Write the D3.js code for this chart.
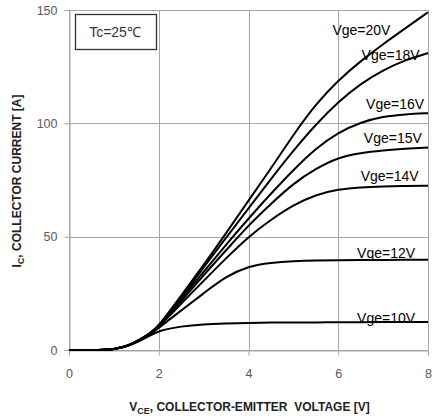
<!DOCTYPE html>
<html><head><meta charset="utf-8">
<script src="https://cdn.jsdelivr.net/npm/d3@7"></script>
<style>
html,body{margin:0;padding:0;background:#fff;}
svg{display:block;}
text{font-family:"Liberation Sans",Arial,sans-serif;}
</style></head>
<body>
<svg id="chart" width="432" height="420"></svg>
<script>
// ---- data ----
const vce = [0,0.5,0.8,1.0,1.2,1.4,1.6,1.8,2.0,2.5,3.0,3.5,4.0,4.5,5.0,5.5,6.0,6.5,7.0,7.5,8.0];
const seriesNames = ["Vge=20V","Vge=18V","Vge=16V","Vge=15V","Vge=14V","Vge=12V","Vge=10V"];
const ic20 = [0,0,0.1,0.4,1.2,2.7,4.8,7.4,10.5,24,37.5,51.5,66,80,95,108.5,119,127.5,135,142,149];
const ic18 = [0,0,0.1,0.4,1.2,2.7,4.8,7.3,10.3,23,36.5,49.5,62.5,75.5,88,99.5,109.5,117.5,123.5,128,131];
const ic16 = [0,0,0.1,0.4,1.2,2.6,4.7,7.2,10.2,22.5,34.5,46.5,58,69,79.5,89,96,100.5,103,104,104.5];
const ic15 = [0,0,0.1,0.4,1.2,2.6,4.7,7.2,10.1,21.5,33,44,55,64.5,73.5,80,85,87,88,88.8,89.3];
const ic14 = [0,0,0.1,0.4,1.2,2.6,4.6,7.1,10,20.5,30.5,40.5,50,57.5,64,68.5,70.9,71.8,72.2,72.4,72.5];
const ic12 = [0,0,0.1,0.4,1.2,2.5,4.5,6.9,9.7,17.5,25,32.5,37,38.5,39.2,39.5,39.6,39.7,39.7,39.8,39.8];
const ic10 = [0,0,0.1,0.4,1.1,2.4,4.2,6.3,8.5,10.5,11.4,11.7,12,12.1,12.1,12.2,12.2,12.3,12.3,12.3,12.3];
const xTicks = [0,2,4,6,8];
const yTicks = [0,50,100,150];
const xTitleMain = "V", xTitleSub = "CE", xTitleRest = ", COLLECTOR-EMITTER  VOLTAGE [V]";
const yTitleMain = "I", yTitleSub = "C", yTitleRest = ", COLLECTOR CURRENT [A]";
const legendText = "Tc=25\u2103";

const allSeries = [ic20, ic18, ic16, ic15, ic14, ic12, ic10];
// label anchor positions (data coords: vce of left edge, Ic of baseline)
const labelPos = [[5.87,139],[6.52,128],[6.62,106.5],[6.57,91.5],[6.5,74.5],[6.42,40.5],[6.42,12]];

// ---- drawing ----
const svg = d3.select("#chart");
const x = d3.scaleLinear().domain([0,8]).range([69,428]);
const y = d3.scaleLinear().domain([0,150]).range([350,10]);
const gridColor = "#a6a6a6";

// grid
const g = svg.append("g");
g.selectAll(".hg").data(yTicks).join("line")
  .attr("x1", x(0)).attr("x2", x(8))
  .attr("y1", d=>Math.round(y(d))+0.5).attr("y2", d=>Math.round(y(d))+0.5)
  .attr("stroke", gridColor).attr("stroke-width",1);
g.selectAll(".vg").data(xTicks).join("line")
  .attr("y1", y(150)).attr("y2", y(0))
  .attr("x1", d=>Math.round(x(d))+0.5).attr("x2", d=>Math.round(x(d))+0.5)
  .attr("stroke", gridColor).attr("stroke-width",1);

// axes
const yAxis = d3.axisLeft(y).tickValues(yTicks).tickSize(5).tickPadding(7);
const xAxis = d3.axisBottom(x).tickValues(xTicks).tickSize(5).tickPadding(14);
const ya = svg.append("g").attr("transform",`translate(${Math.round(x(0))+0.5},0)`).call(yAxis);
const xa = svg.append("g").attr("transform",`translate(0,${Math.round(y(0))+0.5})`).call(xAxis);
[ya,xa].forEach(a=>{
  a.select(".domain").attr("stroke",gridColor);
  a.selectAll(".tick line").attr("stroke",gridColor);
  a.selectAll(".tick text").attr("fill","#595959").attr("font-size",12.5)
    .attr("font-family","'Liberation Sans',Arial,sans-serif");
});

// curves
const line = d3.line().x((d,i)=>x(vce[i])).y(d=>y(d)).curve(d3.curveBasis);
svg.append("g").selectAll("path").data(allSeries).join("path")
  .attr("d", d=>line(d)).attr("fill","none").attr("stroke","#000").attr("stroke-width",2);

// curve labels
svg.append("g").selectAll("text").data(seriesNames).join("text")
  .attr("x",(d,i)=>x(labelPos[i][0])).attr("y",(d,i)=>y(labelPos[i][1]))
  .attr("font-size",14).attr("fill","#000").text(d=>d);

// legend box
svg.append("rect").attr("x",75.5).attr("y",14.5).attr("width",81).attr("height",35)
  .attr("fill","#fff").attr("stroke","#333").attr("stroke-width",1.3);
svg.append("text").attr("x",115).attr("y",37).attr("text-anchor","middle")
  .attr("font-size",14).attr("fill","#333").text(legendText);

// x title
const xt = svg.append("text").attr("x",249.5).attr("y",411).attr("text-anchor","middle")
  .attr("font-size",12).attr("font-weight","bold").attr("fill","#222")
  .style("white-space","pre");
xt.append("tspan").text(xTitleMain);
xt.append("tspan").attr("font-size",9).attr("dy",3).text(xTitleSub);
xt.append("tspan").attr("dy",-3).text(xTitleRest);

// y title
const yt = svg.append("text").attr("transform","translate(21,181) rotate(-90)")
  .attr("text-anchor","middle").attr("font-size",12).attr("font-weight","bold").attr("fill","#222");
yt.append("tspan").text(yTitleMain);
yt.append("tspan").attr("font-size",9).attr("dy",3).text(yTitleSub);
yt.append("tspan").attr("dy",-3).text(yTitleRest);
</script>
</body></html>
